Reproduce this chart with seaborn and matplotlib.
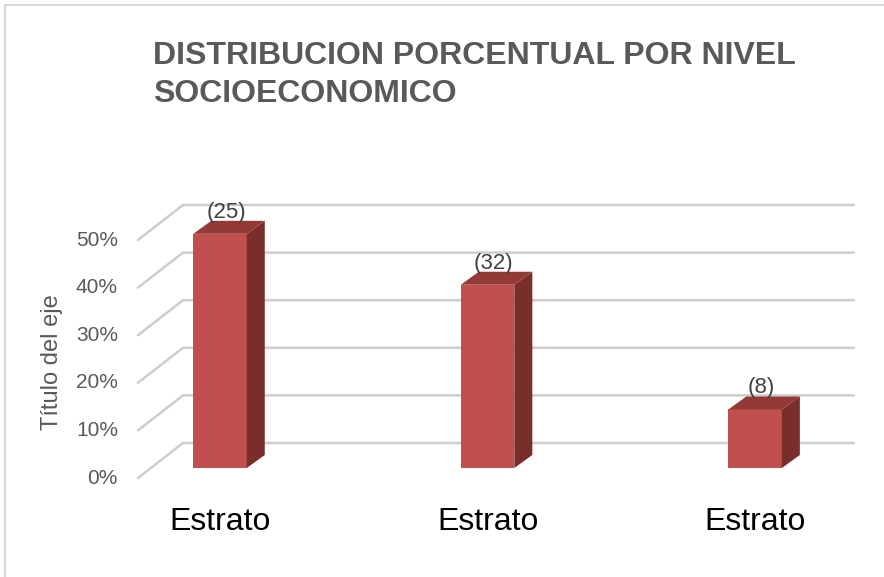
import matplotlib
matplotlib.use("Agg")
import matplotlib.pyplot as plt
import matplotlib.patches as mpatches
import matplotlib.lines as mlines
import matplotlib.transforms as mtransforms
import seaborn as sns
import pandas as pd

# data
categories = ["Estrato", "Estrato", "Estrato"]
percent = [49.2, 38.5, 12.3]
count_labels = ["(25)", "(32)", "(8)"]
y_ticks = [0, 10, 20, 30, 40, 50]

FRONT = "#C0504D"
TOP = "#933A37"
SIDE = "#7A2E2C"
GRID = "#CDCDCD"
TEXT = "#595959"

sns.set_theme(style="white")
plt.rcParams["font.family"] = ["Liberation Sans", "DejaVu Sans"]

fig = plt.figure(figsize=(8.84, 5.77), dpi=100)
ax = fig.add_axes([151 / 884, 109 / 577, 671 / 884, 285.6 / 577])

df = pd.DataFrame({"pos": range(len(percent)), "porcentaje": percent})
sns.barplot(data=df, x="pos", y="porcentaje", color=FRONT, saturation=1,
            width=0.2, ax=ax, zorder=3, linewidth=0)

ax.set_xlim(-0.258, 2.25)
ax.set_ylim(0, 60)
sns.despine(ax=ax, left=True, bottom=True)
ax.set_xlabel("")
ax.set_ylabel("")
ax.set_yticks([])
ax.set_xticks(range(len(categories)), categories, fontsize=23, color="black")
ax.tick_params(axis="x", length=0, pad=28)

# pseudo 3-D: offsets in pixels (display coords)
front_off = (-13, -10)   # plane of the tick labels
back_off = (32, 25)      # back wall
depth = (18, 13)         # bar depth
ident = mtransforms.IdentityTransform()
T = ax.transData

x0, x1 = ax.get_xlim()
for t in y_ticks:
    p0 = T.transform((x0, t))
    p1 = T.transform((x1, t))
    xs = [p0[0] + front_off[0], p0[0] + back_off[0], p1[0] + back_off[0]]
    ys = [p0[1] + front_off[1], p0[1] + back_off[1], p1[1] + back_off[1]]
    ax.add_artist(mlines.Line2D(xs, ys, transform=ident, color=GRID, lw=1.8,
                                clip_on=False, zorder=1,
                                solid_capstyle="round"))
    ax.annotate(f"{t}%", xy=(0, t), xycoords=ax.get_yaxis_transform(),
                xytext=(-33, -10), textcoords="offset pixels",
                ha="right", va="center", fontsize=15, color=TEXT)

for bar, lab in zip(ax.containers[0], count_labels):
    x, w, h = bar.get_x(), bar.get_width(), bar.get_height()
    tl = T.transform((x, h))
    tr = T.transform((x + w, h))
    br = T.transform((x + w, 0))
    side = [br, br + depth, tr + depth, tr]
    top = [tl, tr, tr + depth, tl + depth]
    ax.add_artist(mpatches.Polygon(side, closed=True, transform=ident,
                                   facecolor=SIDE, edgecolor="none",
                                   clip_on=False, zorder=3))
    ax.add_artist(mpatches.Polygon(top, closed=True, transform=ident,
                                   facecolor=TOP, edgecolor="none",
                                   clip_on=False, zorder=3))
    ax.annotate(lab, xy=(x + w / 2, h), xytext=(6, depth[1] + 3),
                textcoords="offset pixels", ha="center", va="baseline",
                fontsize=16, color="#404040", zorder=4)

fig.text(52 / 884, 1 - 362 / 577, "Título del eje", rotation=90,
         ha="center", va="center", fontsize=17, color=TEXT)

fig.text(153 / 884, 1 - 75 / 577, "DISTRIBUCION PORCENTUAL POR NIVEL\nSOCIOECONOMICO",
         ha="left", va="center", fontsize=23, fontweight="bold", color=TEXT,
         linespacing=1.38)

# chart frame
fig.add_artist(mpatches.Rectangle((5 / 884, -0.02), 1.0, 1.02 - 5 / 577,
                                  transform=fig.transFigure, fill=False,
                                  edgecolor="#D9D9D9", lw=1.5))

fig.savefig("out.png", dpi=100)
plt.close(fig)
